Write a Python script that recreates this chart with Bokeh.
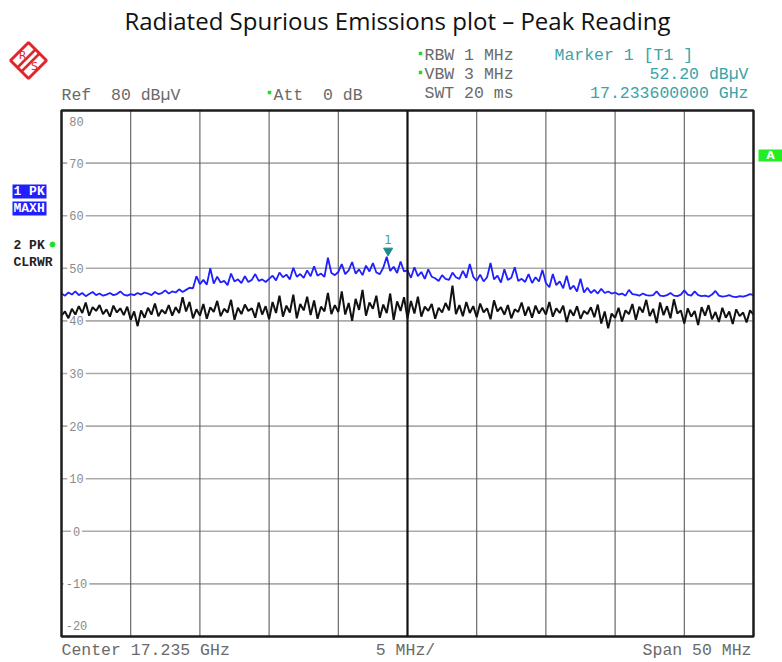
import numpy as np
from bokeh.plotting import figure
from bokeh.models import Range1d
from bokeh.core.properties import value
from bokeh.embed import file_html
from bokeh.resources import INLINE

# ---------------- data ----------------
f_start_ghz = 17.21
f_stop_ghz = 17.26
center_ghz = 17.235
span_mhz = 50
ref_level = 80
bottom_level = -20
n_points = 201
freq_ghz = np.linspace(f_start_ghz, f_stop_ghz, n_points)

trace1_maxh = [
    45.2, 44.8, 45.4, 45.0, 45.6, 44.9, 45.3, 44.7, 45.1, 45.5, 44.9, 45.2, 44.8, 45.0, 45.3, 44.9, 45.1, 45.6, 45.0, 44.8,
    45.1, 44.9, 45.3, 45.0, 45.4, 45.2, 44.9, 45.5, 45.1, 45.3, 45.8, 45.2, 45.6, 45.4, 46.0, 45.5, 45.9, 46.3, 46.2, 48.5,
    47.0, 47.8, 46.9, 50.0, 47.1, 48.4, 47.3, 47.6, 46.8, 49.0, 47.5, 47.9, 47.2, 48.5, 47.4, 47.8, 48.9, 47.6, 47.9, 47.4,
    48.0, 48.6, 47.7, 49.2, 48.3, 48.8, 47.9, 50.1, 48.4, 48.9, 48.2, 49.6, 48.5, 50.4, 48.6, 49.0, 48.4, 52.0, 49.1, 48.7,
    49.3, 50.8, 48.9, 49.6, 51.2, 49.0, 49.8, 48.7, 50.5, 49.4, 51.0, 49.2, 48.9, 50.1, 52.2, 49.5, 50.3, 49.1, 51.3, 49.4,
    49.6, 48.2, 50.2, 48.5, 49.3, 48.0, 49.8, 48.4, 48.1, 47.6, 48.7, 48.0, 47.8, 49.2, 48.3, 48.0, 49.5, 48.2, 50.8, 48.4,
    47.6, 48.8, 47.5, 48.3, 51.0, 47.9, 48.6, 47.3, 49.8, 47.8, 48.2, 50.2, 47.6, 48.0, 47.4, 48.9, 47.2, 48.3, 47.5, 49.7,
    47.2, 46.4, 48.9, 46.8, 47.5, 46.2, 48.6, 46.0, 46.7, 45.6, 48.0, 45.4, 46.3, 45.3, 45.9, 45.2, 46.1, 45.3, 45.6, 45.2,
    45.4, 45.0, 45.2, 44.8, 45.9, 45.1, 45.0, 44.8, 45.2, 44.9, 44.8, 44.9, 45.6, 44.8, 44.7, 44.9, 45.3, 44.8, 44.7, 45.0,
    45.8, 45.0, 44.8, 45.6, 44.9, 44.7, 44.8, 44.6, 45.0, 45.7, 44.8, 44.6, 44.7, 44.9, 44.6, 44.5, 44.7, 44.6, 44.8, 45.1, 44.9,
]

trace2_clrwr = [
    41.0, 41.8, 40.5, 42.3, 41.2, 42.8, 41.5, 43.5, 41.0, 42.6, 41.9, 43.0, 41.3, 42.2, 40.8, 42.9, 41.6, 42.4, 41.1, 42.7,
    40.2, 41.8, 39.0, 42.0, 40.6, 42.5, 41.2, 43.3, 40.9, 42.1, 41.4, 43.0, 41.0, 42.6, 41.5, 44.5, 41.8, 43.6, 40.5, 42.2,
    41.0, 43.2, 40.4, 42.6, 41.7, 43.8, 40.9, 42.3, 41.6, 44.0, 40.2, 42.5, 41.3, 43.1, 41.9, 42.4, 40.6, 43.5, 41.2, 42.8,
    40.3, 43.6, 41.5, 44.8, 40.8, 42.9, 41.6, 45.0, 40.5, 43.2, 42.0, 44.6, 41.1, 43.9, 40.4, 42.7, 41.8, 45.3, 41.3, 43.0,
    41.7, 45.6, 41.2, 43.4, 40.0, 44.2, 42.1, 45.9, 41.0, 43.5, 42.3, 44.8, 40.6, 43.1, 41.5, 45.2, 40.2, 43.7, 41.9, 44.5,
    40.5, 43.8, 41.4, 44.6, 40.8, 42.7, 41.9, 43.2, 40.4, 42.5, 41.6, 43.4, 42.0, 46.7, 41.3, 43.0, 40.9, 43.6, 41.5, 42.8,
    40.7, 43.3, 41.6, 42.4, 40.3, 43.9, 41.8, 42.6, 41.2, 43.0, 40.5, 42.2, 41.7, 43.5, 41.0, 42.7, 40.6, 42.9, 41.4, 42.5,
    41.2, 43.6, 40.8, 42.4, 41.5, 42.9, 39.8, 42.1, 41.0, 42.8, 40.4, 41.9, 41.3, 42.6, 40.7, 43.1, 39.5, 41.8, 38.6, 41.4,
    40.6, 42.5, 39.9, 42.0, 41.3, 43.2, 40.2, 42.7, 41.6, 44.0, 40.9, 42.3, 39.6, 43.5, 41.1, 42.8, 40.5, 44.1, 41.4, 42.0,
    39.5, 42.4, 40.8, 41.9, 39.2, 42.6, 41.0, 43.0, 40.3, 41.7, 39.8, 42.5, 40.6, 41.8, 39.4, 42.2, 40.9, 41.6, 39.7, 42.0, 41.2,
]

y_tick_values = [80, 70, 60, 50, 40, 30, 20, 10, 0, -10, -20]
y_tick_labels = ["80", "70", "60", "50", "40", "30", "20", "10", "0", "-10", "-20"]
h_grid_values = [70, 60, 50, 40, 30, 20, 10, 0, -10]
v_grid_values = [17.215, 17.220, 17.225, 17.230, 17.240, 17.245, 17.250, 17.255]

marker_freq_ghz = 17.2336
marker_level = 52.20
rbw_text = "RBW 1 MHz"
vbw_text = "VBW 3 MHz"
swt_text = "SWT 20 ms"
ref_text = "Ref\u00a0 80 dB\u00b5V"
att_text = "Att\u00a0 0 dB"
title_text = "Radiated Spurious Emissions plot \u2013 Peak Reading"

# ---------------- layout (page pixels) ----------------
W, H = 782, 662
FL, FR, FT, FB = 61, 753, 110, 636


def X(px):
    return f_start_ghz + (px - FL) * (f_stop_ghz - f_start_ghz) / (FR - FL)


def Y(py):
    return ref_level - (py - FT) * (ref_level - bottom_level) / (FB - FT)


px_per_db = (FB - FT) / (ref_level - bottom_level)

p = figure(width=W, height=H,
           x_range=Range1d(X(0), X(W)),
           y_range=Range1d(Y(H), Y(0)),
           output_backend="svg", toolbar_location=None,
           x_axis_location=None, y_axis_location=None,
           min_border=0, min_border_left=0, min_border_right=0,
           min_border_top=0, min_border_bottom=0,
           outline_line_color=None, background_fill_color="white",
           border_fill_color="white")
for g in p.grid:
    g.visible = False

MONO = value("Liberation Mono")
GRAY = "#6a6a6a"
TEAL = "#3aa3a8"
GREEN = "#22dd22"
HDR_SIZE = "16.5px"

# grid
p.segment(x0=[f_start_ghz] * len(h_grid_values), x1=[f_stop_ghz] * len(h_grid_values),
          y0=h_grid_values, y1=h_grid_values, line_color="#ababab", line_width=1.6)
p.segment(x0=v_grid_values, x1=v_grid_values,
          y0=[bottom_level] * len(v_grid_values), y1=[ref_level] * len(v_grid_values),
          line_color="#5c5c5c", line_width=1.1)

# y labels inside frame
label_y = []
for v in y_tick_values:
    if v == ref_level:
        label_y.append(Y(121))
    elif v == bottom_level:
        label_y.append(Y(625))
    else:
        label_y.append(v)
p.text(x=[f_start_ghz] * len(y_tick_values), y=label_y, text=y_tick_labels,
       x_offset=15, text_align="center", text_baseline="middle",
       text_font=MONO, text_font_size="12px", text_color="#8a8a8a",
       background_fill_color="white", padding=2)

# traces
p.line(freq_ghz, trace2_clrwr, line_color="#111111", line_width=2.0)
p.line(freq_ghz, trace1_maxh, line_color="#1f1fff", line_width=1.8)

# frame and center line
p.quad(left=[f_start_ghz], right=[f_stop_ghz], bottom=[bottom_level], top=[ref_level],
       fill_color=None, line_color="#1c1c1c", line_width=2.5)
p.segment(x0=[center_ghz], x1=[center_ghz], y0=[bottom_level], y1=[ref_level],
          line_color="#111111", line_width=2.2)

# marker
p.scatter([marker_freq_ghz], [marker_level + 6 / px_per_db], marker="inverted_triangle",
          size=9, fill_color="#1d8a8a", line_color="#1d8a8a")
p.text(x=[marker_freq_ghz], y=[marker_level + 17 / px_per_db], text=["1"],
       text_align="center", text_baseline="middle", text_font=value("DejaVu Sans"),
       text_font_size="12px", text_color=TEAL)

# title
p.text(x=[X(397)], y=[Y(20)], text=[title_text], text_align="center", text_baseline="middle",
       text_font=value("Open Sans"), text_font_size="24px", text_color="#111111")

# header texts
p.text(x=[X(424), X(424), X(424)], y=[Y(55), Y(74), Y(93)],
       text=[rbw_text, vbw_text, swt_text], text_align="left", text_baseline="middle",
       text_font=MONO, text_font_size=HDR_SIZE, text_color=GRAY)
p.text(x=[X(554)], y=[Y(55)], text=["Marker 1 [T1 ]"], text_align="left", text_baseline="middle",
       text_font=MONO, text_font_size=HDR_SIZE, text_color=TEAL)
p.text(x=[X(748), X(748)], y=[Y(74), Y(93)],
       text=[f"{marker_level:.2f} dB\u00b5V", f"{marker_freq_ghz:.9f} GHz"],
       text_align="right", text_baseline="middle",
       text_font=MONO, text_font_size=HDR_SIZE, text_color=TEAL)
p.text(x=[X(61), X(273)], y=[Y(95), Y(95)], text=[ref_text, att_text],
       text_align="left", text_baseline="middle",
       text_font=MONO, text_font_size=HDR_SIZE, text_color=GRAY)
p.scatter([X(420), X(420), X(269)], [Y(53), Y(72), Y(92)], marker="square", size=3.5,
          fill_color=GREEN, line_color=None)

# bottom texts
p.text(x=[X(61)], y=[Y(650)], text=[f"Center {center_ghz:.3f} GHz"], text_align="left",
       text_baseline="middle", text_font=MONO, text_font_size=HDR_SIZE, text_color=GRAY)
p.text(x=[X(405)], y=[Y(650)], text=[f"{span_mhz // 10} MHz/"], text_align="center",
       text_baseline="middle", text_font=MONO, text_font_size=HDR_SIZE, text_color=GRAY)
p.text(x=[X(751)], y=[Y(650)], text=[f"Span {span_mhz} MHz"], text_align="right",
       text_baseline="middle", text_font=MONO, text_font_size=HDR_SIZE, text_color=GRAY)

# left trace labels
p.quad(left=[X(12), X(12)], right=[X(46), X(46)], top=[Y(184), Y(201)], bottom=[Y(198), Y(215)],
       fill_color="#1f1fff", line_color=None)
p.text(x=[X(13), X(13)], y=[Y(191), Y(208)], text=["1 PK", "MAXH"], text_align="left",
       text_baseline="middle", text_font=MONO, text_font_size="13px", text_font_style="bold",
       text_color="white")
p.text(x=[X(13), X(13)], y=[Y(245), Y(262)], text=["2 PK", "CLRWR"], text_align="left",
       text_baseline="middle", text_font=MONO, text_font_size="13px", text_font_style="bold",
       text_color="#222222")
p.scatter([X(52)], [Y(244)], marker="asterisk", size=6, line_color=GREEN, line_width=1.5)

# green "A" box
p.quad(left=[X(758)], right=[X(782)], top=[Y(149)], bottom=[Y(161)],
       fill_color="#22ee22", line_color=None)
p.text(x=[X(770)], y=[Y(155)], text=["A"], text_align="center", text_baseline="middle",
       text_font=value("DejaVu Sans"), text_font_size="11px", text_font_style="bold",
       text_color="white")

# R&S logo
cx, cy, r = 28, 60, 18
p.patch([X(cx), X(cx + r), X(cx), X(cx - r)], [Y(cy - r), Y(cy), Y(cy + r), Y(cy)],
        fill_color="white", line_color="#e0262a", line_width=3)
p.segment(x0=[X(cx - 11), X(cx - 7)], y0=[Y(cy + 7), Y(cy + 11)],
          x1=[X(cx + 7), X(cx + 11)], y1=[Y(cy - 11), Y(cy - 7)],
          line_color="#e0262a", line_width=2.5)
p.text(x=[X(cx - 6), X(cx + 6)], y=[Y(cy - 5), Y(cy + 6)], text=["R", "S"],
       text_align="center", text_baseline="middle", text_font=value("DejaVu Sans"),
       text_font_size="11px", text_color="#e0262a")

open("out.html", "w").write(file_html(p, INLINE))
